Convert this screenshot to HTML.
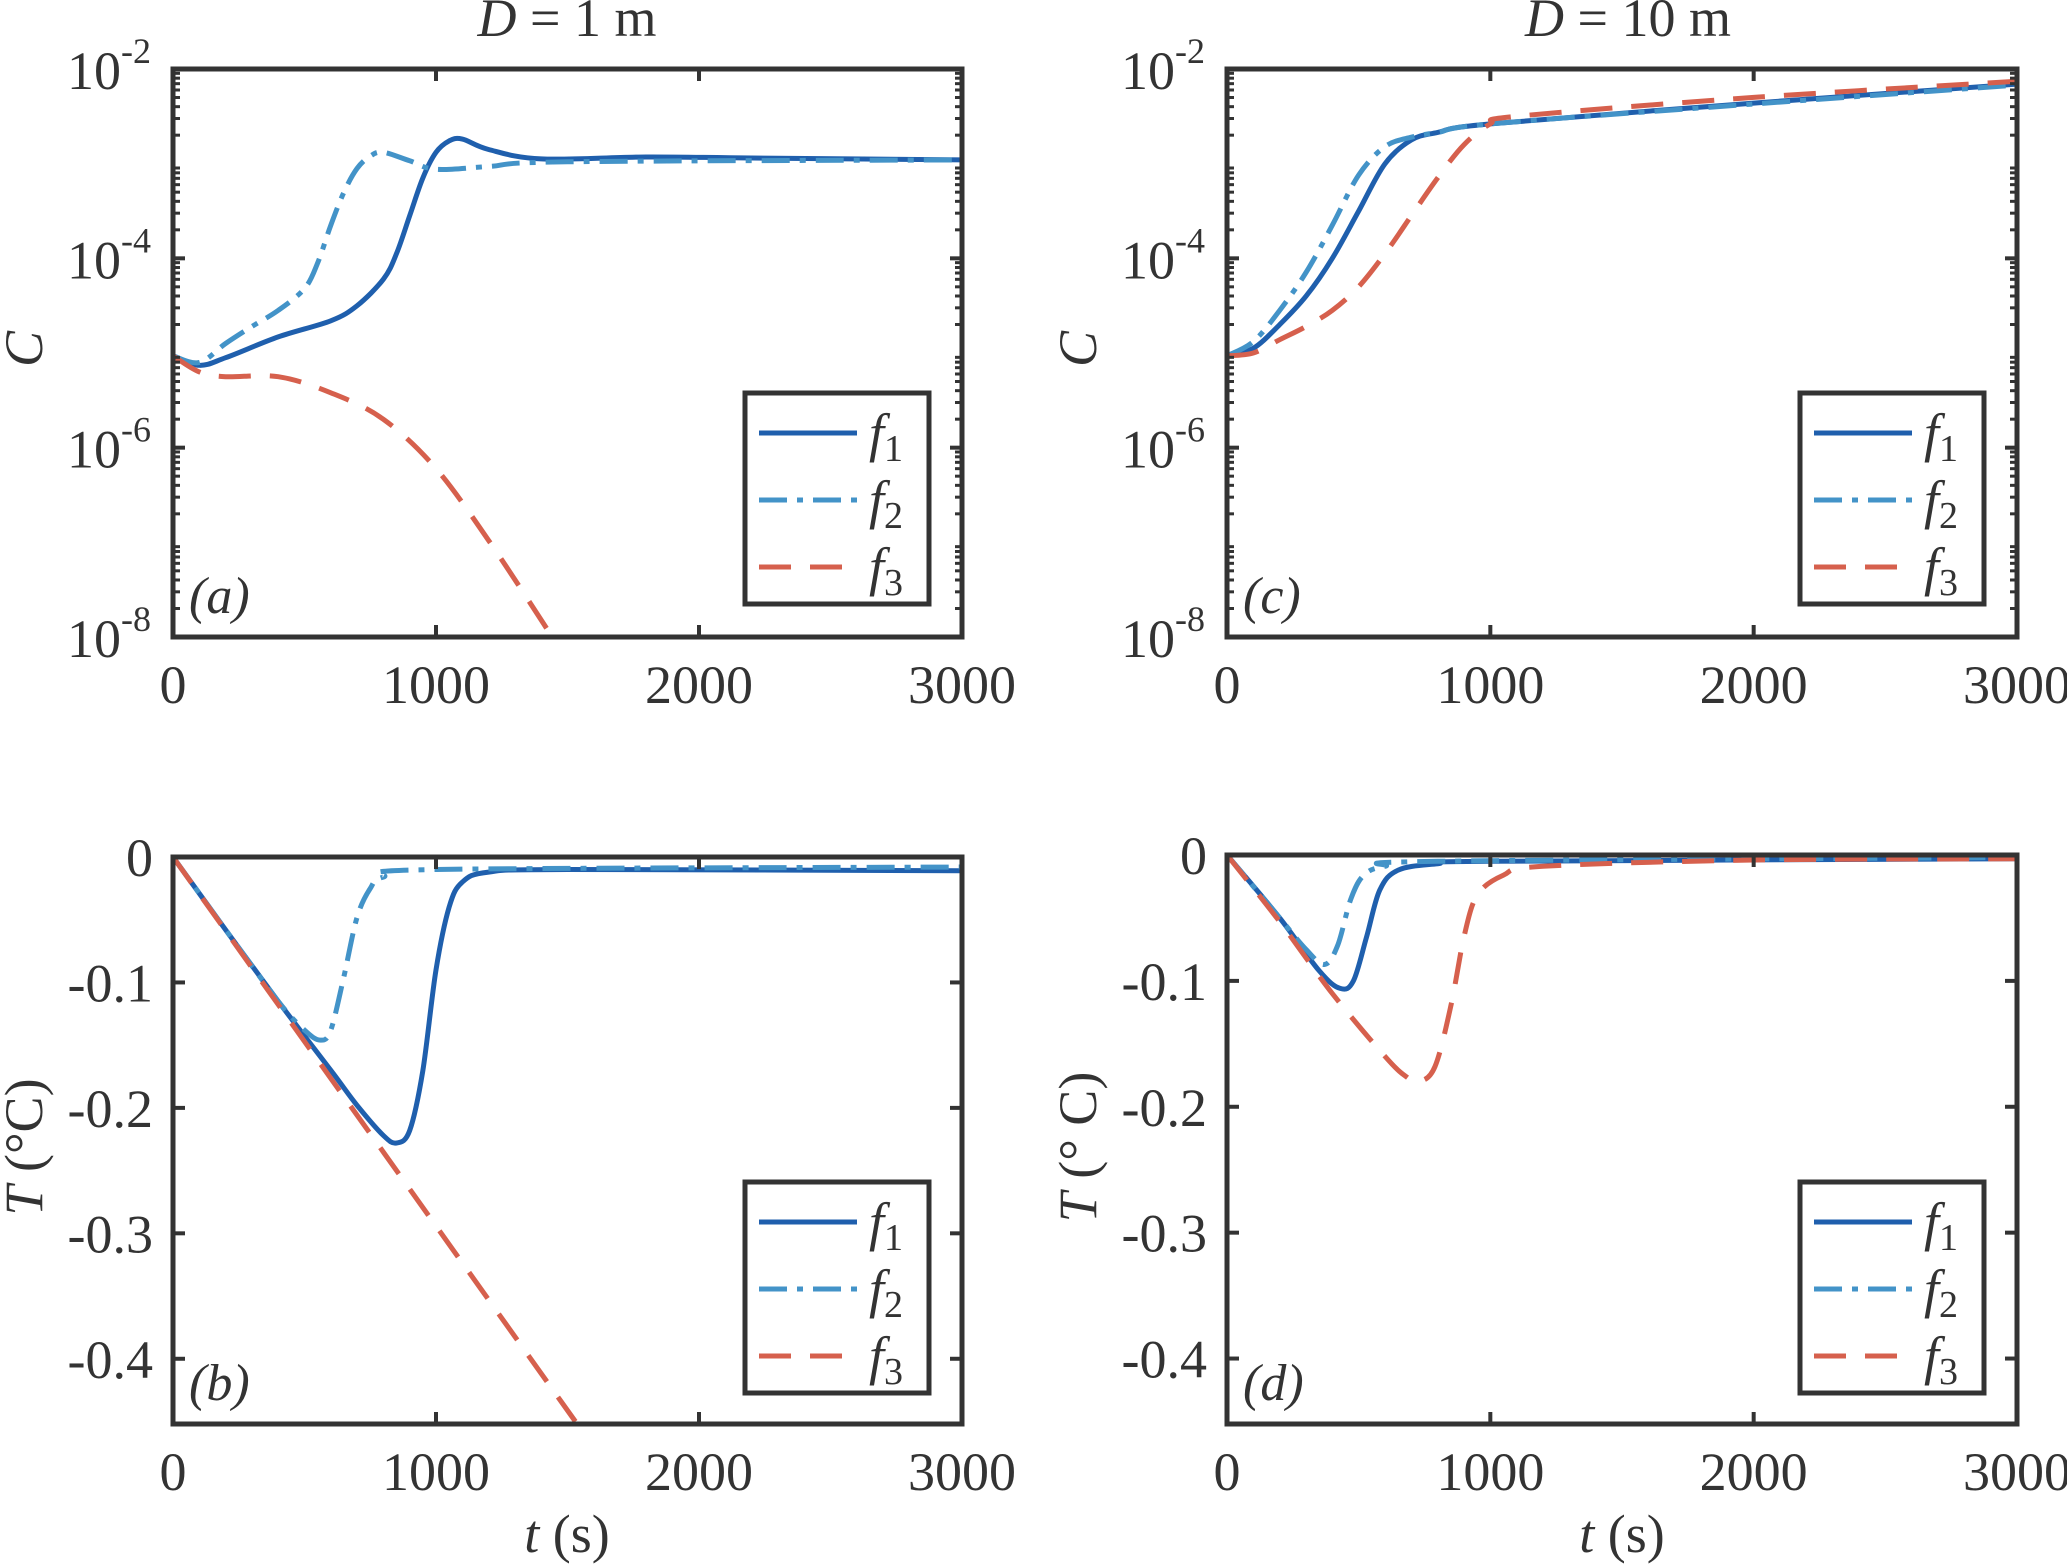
<!DOCTYPE html>
<html><head><meta charset="utf-8"><style>
html,body{margin:0;padding:0;background:#fff;}
svg{display:block;}
text{font-family:"Liberation Serif",serif;fill:#333;}
</style></head>
<body>
<svg id="fig" width="2067" height="1568" viewBox="0 0 2067 1568" xmlns="http://www.w3.org/2000/svg"></svg>
<script>
// ---- data ----
const aT1=[0,100,200,400,600,700,800,850,900,950,1000,1050,1100,1200,1400,1800,2200,3000];
const aF1=[-5.03,-5.13,-5.05,-4.83,-4.66,-4.5,-4.22,-3.95,-3.55,-3.15,-2.88,-2.76,-2.74,-2.85,-2.95,-2.93,-2.94,-2.96];
const aT2=[0,100,200,300,400,500,550,600,650,700,750,800,900,1000,1200,1500,3000];
const aF2=[-5.03,-5.1,-4.9,-4.72,-4.55,-4.32,-4.05,-3.65,-3.3,-3.05,-2.92,-2.88,-2.97,-3.06,-3.03,-2.98,-2.96];
const aT3=[0,100,200,400,600,800,1000,1200,1400,1450];
const aF3=[-5.03,-5.2,-5.25,-5.25,-5.42,-5.7,-6.22,-6.98,-7.82,-8.05];

const cT1=[0,100,200,300,400,500,600,700,800,1000,2000,3000];
const cF1=[-5.03,-4.95,-4.7,-4.4,-4.0,-3.5,-3.0,-2.75,-2.67,-2.58,-2.36,-2.16];
const cT2=[0,100,200,300,400,500,600,700,800,1000,2000,3000];
const cF2=[-5.03,-4.88,-4.55,-4.15,-3.65,-3.12,-2.82,-2.72,-2.67,-2.58,-2.37,-2.17];
const cT3=[0,100,200,300,400,500,600,700,800,900,1000,1100,2000,3000];
const cF3=[-5.03,-5.0,-4.86,-4.72,-4.55,-4.3,-3.95,-3.55,-3.15,-2.8,-2.58,-2.5,-2.3,-2.13];

const bT1=[0,200,400,600,700,800,850,900,950,1000,1050,1100,1200,1500,3000];
const bF1=[0,-0.058,-0.115,-0.17,-0.198,-0.222,-0.228,-0.218,-0.17,-0.09,-0.04,-0.02,-0.012,-0.01,-0.011];
const bT2=[0,200,400,500,560,600,650,700,750,800,1000,3000];
const bF2=[0,-0.058,-0.115,-0.138,-0.146,-0.138,-0.095,-0.048,-0.025,-0.016,-0.01,-0.008];
const bT3=[0,1530];
const bF3=[0,-0.45];

const dT1=[0,200,350,430,480,530,580,650,800,1000,3000];
const dF1=[0,-0.05,-0.092,-0.106,-0.1,-0.065,-0.028,-0.012,-0.007,-0.005,-0.003];
const dT2=[0,200,300,370,420,470,520,600,800,3000];
const dF2=[0,-0.05,-0.075,-0.087,-0.072,-0.035,-0.016,-0.009,-0.005,-0.002];
const dT3=[0,200,400,600,680,730,790,850,900,950,1050,1200,2000,3000];
const dF3=[0,-0.053,-0.11,-0.16,-0.176,-0.18,-0.168,-0.12,-0.065,-0.032,-0.016,-0.009,-0.004,-0.003];

const xTicks=[0,1000,2000,3000];
const logTicks=[-2,-4,-6,-8];
const linTicks=[0,-0.1,-0.2,-0.3,-0.4];
const linTickLabels=["0","-0.1","-0.2","-0.3","-0.4"];

// ---- drawing ----
const NS="http://www.w3.org/2000/svg";
const svg=document.getElementById('fig');
function el(tag,attrs,parent){const e=document.createElementNS(NS,tag);for(const k in attrs)e.setAttribute(k,attrs[k]);(parent||svg).appendChild(e);return e;}
const COL=['#1f5fad','#4393c8','#d6604d'];
const DASH=['none','28 10 6 10','32 19'];

function smoothPath(pts){
  let d='M'+pts[0][0].toFixed(1)+','+pts[0][1].toFixed(1);
  for(let i=0;i<pts.length-1;i++){
    const p0=pts[Math.max(0,i-1)],p1=pts[i],p2=pts[i+1],p3=pts[Math.min(pts.length-1,i+2)];
    const c1=[p1[0]+(p2[0]-p0[0])/6,p1[1]+(p2[1]-p0[1])/6];
    const c2=[p2[0]-(p3[0]-p1[0])/6,p2[1]-(p3[1]-p1[1])/6];
    d+=' C'+c1[0].toFixed(1)+','+c1[1].toFixed(1)+' '+c2[0].toFixed(1)+','+c2[1].toFixed(1)+' '+p2[0].toFixed(1)+','+p2[1].toFixed(1);
  }
  return d;
}

function panel(o){
  const g=el('g',{});
  
  
  const L=o.L,R=o.R,T=o.T,B=o.B;
  const xs=t=>L+(t/3000)*(R-L);
  const ys=v=>T+(o.y0-v)/(o.y0-o.y1)*(B-T);
  const clip=el('clipPath',{id:'clip'+o.id},g);
  el('rect',{x:L,y:T,width:R-L,height:B-T},clip);
  o.series.forEach((s,i)=>{
    const pts=s[0].map((t,j)=>[xs(t),ys(s[1][j])]);
    const p=el('path',{d:smoothPath(pts),fill:'none',stroke:COL[i],'stroke-width':5,'stroke-dasharray':DASH[i],'clip-path':'url(#clip'+o.id+')','stroke-linejoin':'round'},g);
    
    
  });
  const tk=12;
  xTicks.forEach(t=>{
    const x=xs(t);
    el('line',{x1:x,y1:B,x2:x,y2:B-tk,stroke:'#333','stroke-width':4},g);
    el('line',{x1:x,y1:T,x2:x,y2:T+tk,stroke:'#333','stroke-width':4},g);
    const tx=el('text',{x:x,y:B+66,'text-anchor':'middle','font-size':54},g);
    tx.textContent=t;
    
    
  });
  if(o.log){
    for(let e=-8;e<-2;e++){for(let m=2;m<10;m++){const y=ys(e+Math.log10(m));
      el('line',{x1:L,y1:y,x2:L+7,y2:y,stroke:'#333','stroke-width':3},g);
      el('line',{x1:R,y1:y,x2:R-7,y2:y,stroke:'#333','stroke-width':3},g);}}
    logTicks.forEach(v=>{
      const y=ys(v);
      el('line',{x1:L,y1:y,x2:L+tk,y2:y,stroke:'#333','stroke-width':4},g);
      el('line',{x1:R,y1:y,x2:R-tk,y2:y,stroke:'#333','stroke-width':4},g);
      const tx=el('text',{x:L-22,y:y+20,'text-anchor':'end','font-size':54},g);
      
      
      const a=el('tspan',{},tx);a.textContent='10';
      const b=el('tspan',{dy:-26,'font-size':36},tx);b.textContent=String(v);
    });
  } else {
    linTicks.forEach((v,i)=>{
      const y=ys(v);
      el('line',{x1:L,y1:y,x2:L+tk,y2:y,stroke:'#333','stroke-width':4},g);
      el('line',{x1:R,y1:y,x2:R-tk,y2:y,stroke:'#333','stroke-width':4},g);
      const tx=el('text',{x:L-20,y:y+19,'text-anchor':'end','font-size':54},g);
      tx.textContent=linTickLabels[i];
      
      
    });
  }
  const fr=el('rect',{x:L,y:T,width:R-L,height:B-T,fill:'none',stroke:'#333','stroke-width':5},g);
  
  
  const pl=el('text',{x:L+16,y:B-24,'font-size':52,'font-style':'italic'},g);
  pl.textContent='('+o.id+')';
  
  
  const lx=R-217,ly=o.legTop,lw=184,lh=211;
  const lg=el('g',{},g);
  
  
  el('rect',{x:lx,y:ly,width:lw,height:lh,fill:'#fff',stroke:'#333','stroke-width':5},lg);
  [0,1,2].forEach(i=>{
    const yy=ly+40+i*67;
    const ent=el('g',{},lg);
    
    
    el('line',{x1:lx+14,y1:yy,x2:lx+112,y2:yy,stroke:COL[i],'stroke-width':5,'stroke-dasharray':DASH[i]},ent);
    const t=el('text',{x:lx+124,y:yy+18,'font-size':54,'font-style':'italic',fill:'#111'},ent);
    t.textContent='f';
    const s=el('tspan',{dy:10,'font-size':38,'font-style':'normal'},t);s.textContent=String(i+1);
  });
}

panel({id:'a',L:173,R:962,T:69,B:637,log:true,y0:-2,y1:-8,legTop:393,series:[[aT1,aF1],[aT2,aF2],[aT3,aF3]]});
panel({id:'c',L:1227,R:2017,T:69,B:637,log:true,y0:-2,y1:-8,legTop:393,series:[[cT1,cF1],[cT2,cF2],[cT3,cF3]]});
panel({id:'b',L:173,R:962,T:857,B:1424,log:false,y0:0,y1:-0.452,legTop:1182,series:[[bT1,bF1],[bT2,bF2],[bT3,bF3]]});
panel({id:'d',L:1227,R:2017,T:855,B:1424,log:false,y0:0,y1:-0.452,legTop:1182,series:[[dT1,dF1],[dT2,dF2],[dT3,dF3]]});

function txt(x,y,s,size,name,rot,italicFirst){
  const t=el('text',{x:x,y:y,'text-anchor':'middle','font-size':size});
  if(rot)t.setAttribute('transform','rotate(-90 '+x+' '+y+')');
  
  
  if(italicFirst){const a=el('tspan',{'font-style':'italic'},t);a.textContent=italicFirst;const b=el('tspan',{},t);b.textContent=s;}
  else t.textContent=s;
  return t;
}
txt(567,36,' = 1 m',54,'title-d1',false,'D');
txt(1628,36,' = 10 m',54,'title-d10',false,'D');
txt(42,349,'',54,'y-axis-title-c',true,'C');
txt(42,1147,' (°C)',54,'y-axis-title-t-left',true,'T');
txt(1096,1147,' (° C)',54,'y-axis-title-t-right',true,'T');
txt(1096,349,'',54,'y-axis-title-c-right',true,'C');
txt(567,1552,' (s)',54,'x-axis-title-left',false,'t');
txt(1622,1552,' (s)',54,'x-axis-title-right',false,'t');
</script>
</body></html>
